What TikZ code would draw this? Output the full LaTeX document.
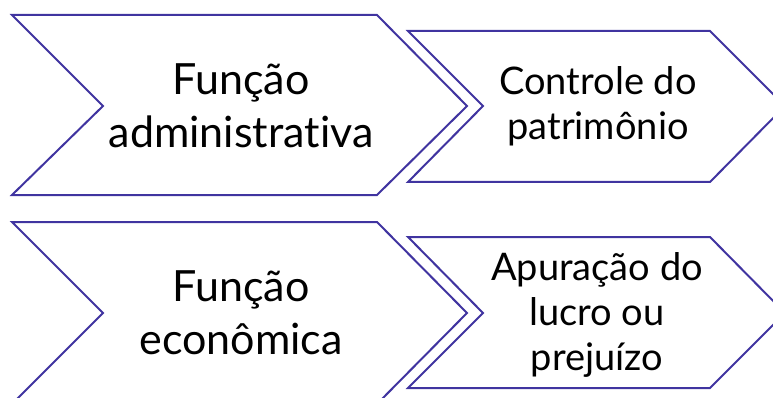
\documentclass[tikz,border=0pt]{standalone}
\usepackage{fontspec}
\setmainfont{Lato}[Ligatures=NoCommon]
\definecolor{chev}{RGB}{64,52,160}
\tikzset{
  chevline/.style={draw=chev, line width=2pt, line join=miter},
  bigtxt/.style={align=center, font=\fontsize{43}{53}\selectfont, inner sep=0pt},
  smalltxt/.style={align=center, font=\fontsize{38}{45}\selectfont, inner sep=0pt}
}
\begin{document}
\begin{tikzpicture}[x=1pt,y=-1pt]
\useasboundingbox (0,0) rectangle (773,398);
% top row
\draw[chevline] (12,15) -- (377,15) -- (467,106) -- (377,195) -- (12,195) -- (103,106) -- cycle;
\draw[chevline] (408,31) -- (710,31) -- (785,106) -- (710,182) -- (408,182) -- (483,106) -- cycle;
% bottom row
\draw[chevline] (12,222) -- (377,222) -- (467,313) -- (377,404) -- (12,404) -- (103,313) -- cycle;
\draw[chevline] (408,237) -- (710,237) -- (785,313) -- (710,388) -- (408,388) -- (483,313) -- cycle;
% texts
\node[bigtxt] (fa) at (241,106) {Função\\administrativa};
\node[smalltxt] (cp) at (598,106) {Controle do\\patrimônio};
\node[bigtxt] (fe) at (241,313) {Função\\econômica};
\node[smalltxt] (al) at (597,315) {Apuração do\\lucro ou\\prejuízo};
\end{tikzpicture}
\end{document}
